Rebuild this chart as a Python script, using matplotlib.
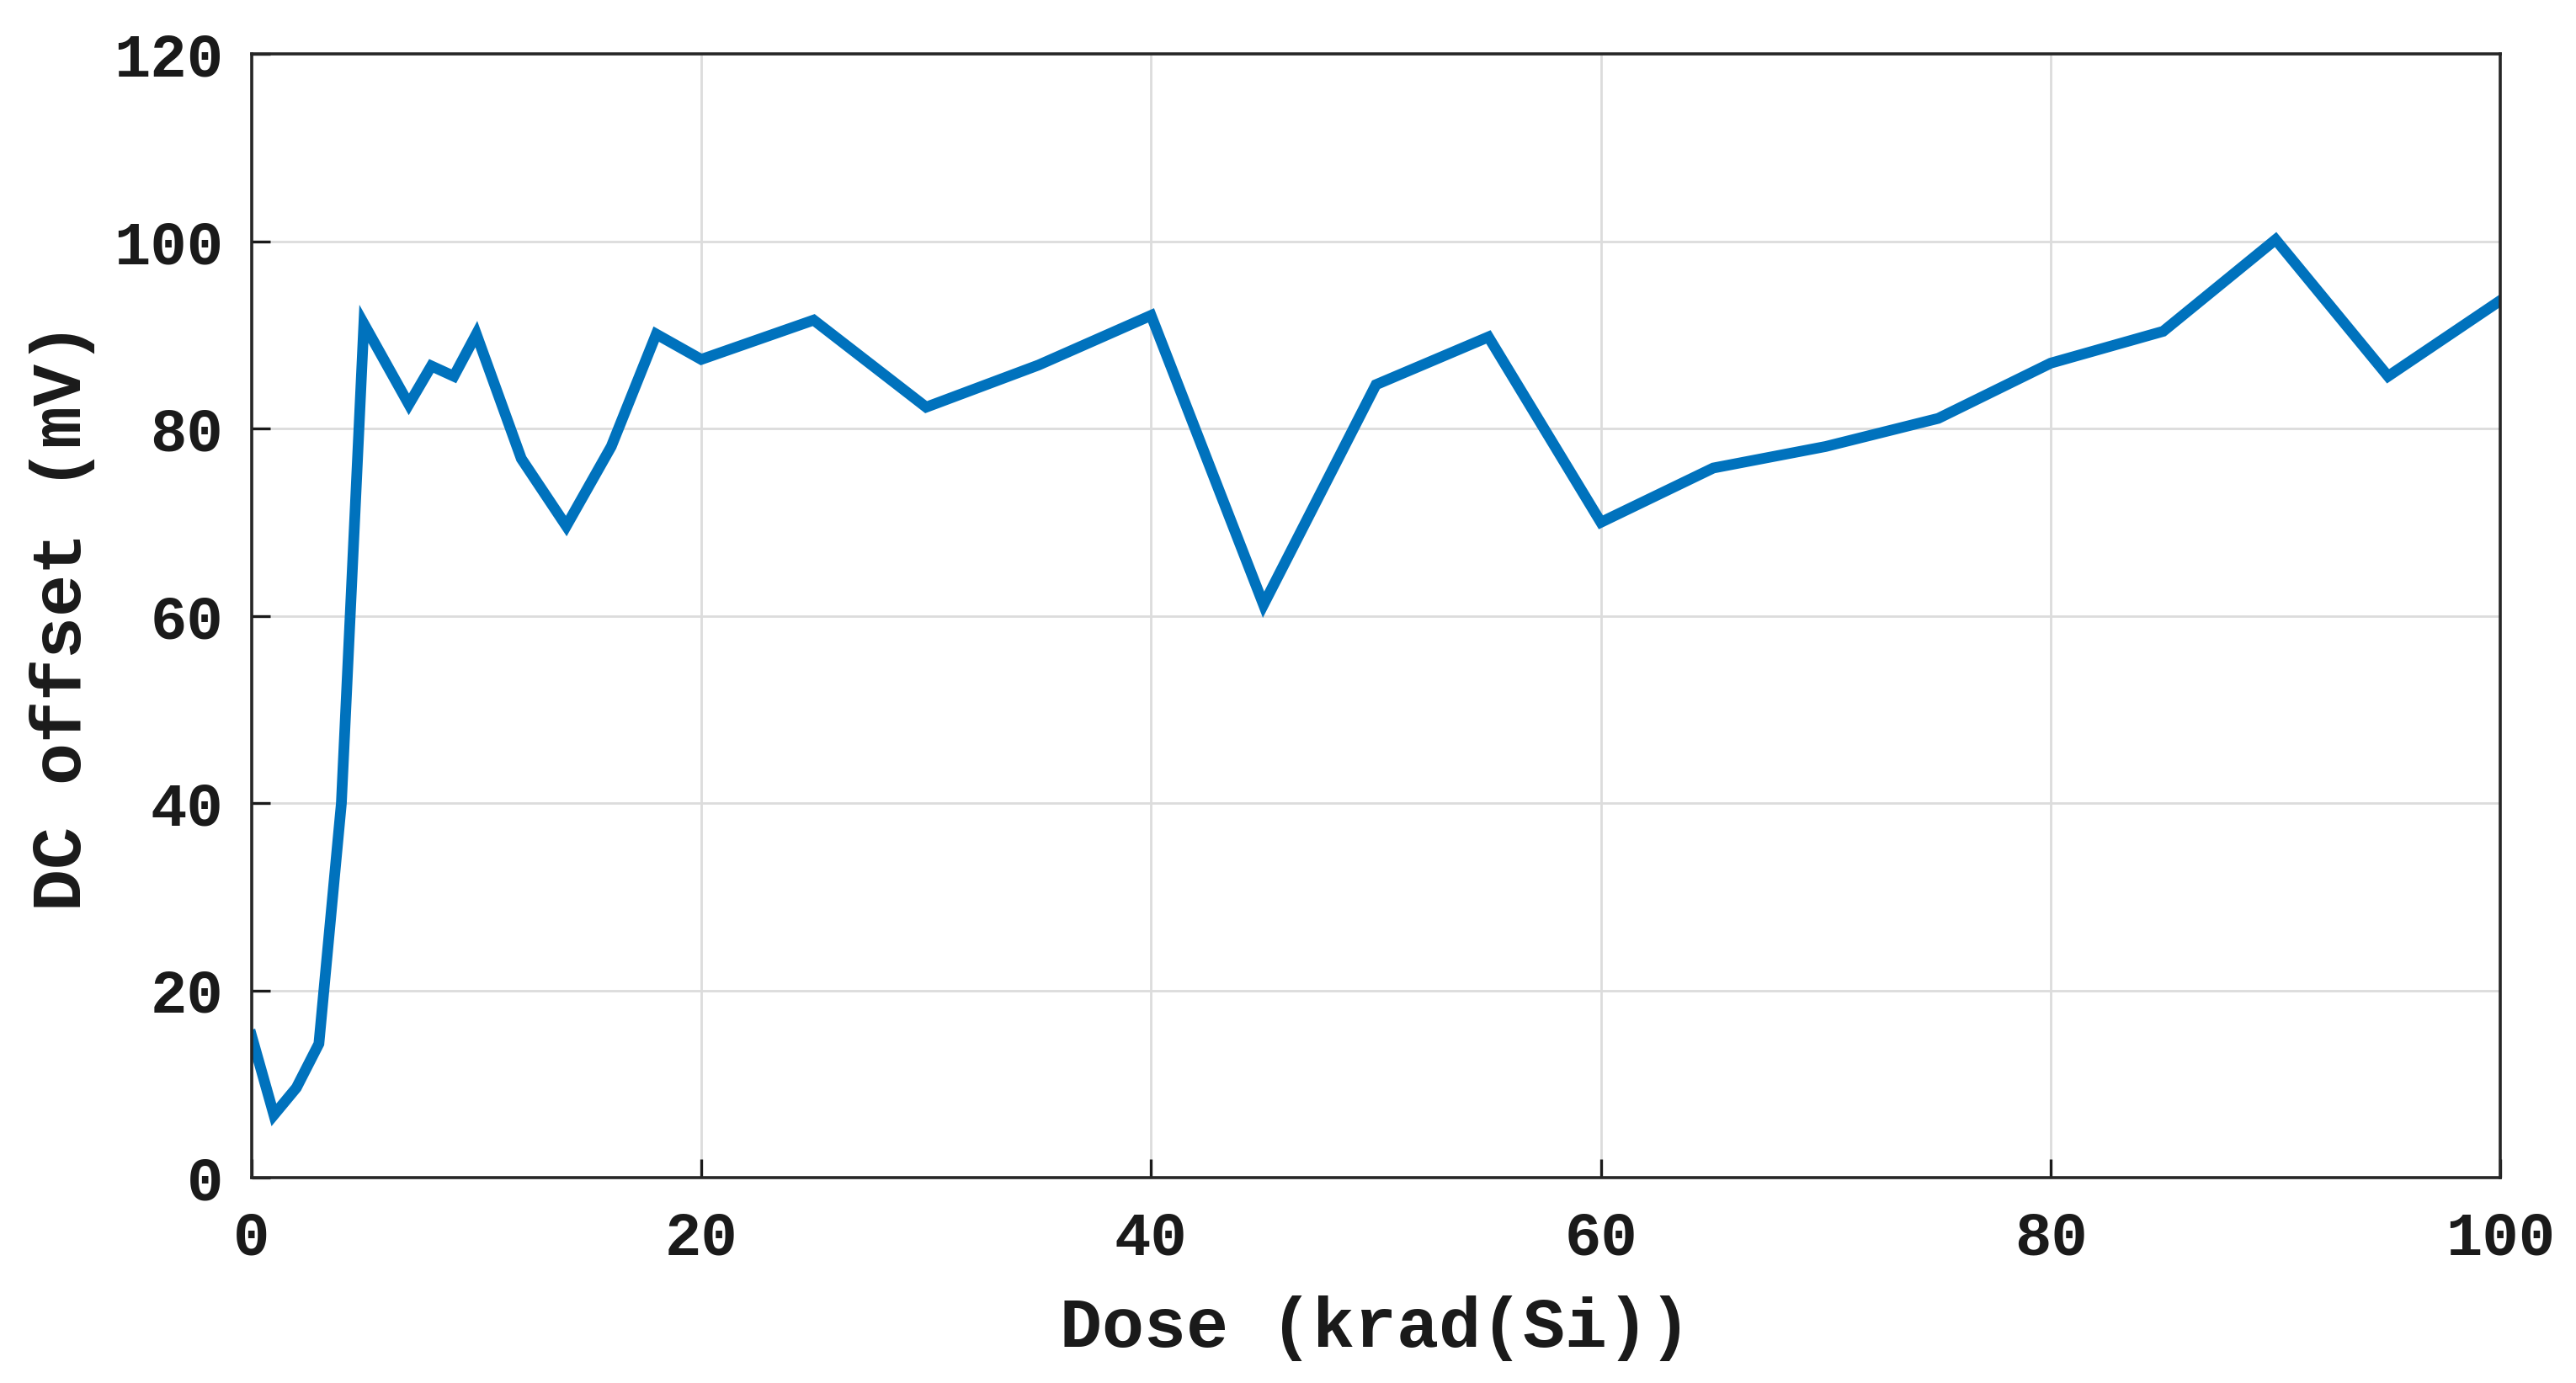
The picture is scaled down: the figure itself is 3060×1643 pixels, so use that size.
import matplotlib
matplotlib.use('Agg')
import matplotlib.pyplot as plt

dose = [0, 1, 2, 3, 4, 5, 7, 8, 9, 10, 12, 14, 16, 18, 20, 25, 30, 35, 40,
        45, 50, 55, 60, 65, 70, 75, 80, 85, 90, 95, 100]
offset = [15.2, 6.7, 9.6, 14.3, 40.0, 91.2, 82.6, 86.7, 85.6, 90.1, 76.8, 69.6,
          78.1, 90.1, 87.4, 91.6, 82.3, 86.8, 92.1, 61.2, 84.7, 89.8, 70.0,
          75.8, 78.1, 81.1, 87.0, 90.4, 100.2, 85.6, 93.7]
xticks = [0, 20, 40, 60, 80, 100]
yticks = [0, 20, 40, 60, 80, 100, 120]

plt.rcParams['font.family'] = ['Liberation Mono', 'DejaVu Sans']
plt.rcParams['font.weight'] = 'bold'

fig = plt.figure(figsize=(15.3, 8.215), dpi=200)
ax = fig.add_axes([0.0976, 0.1485, 0.8731, 0.8123])

ax.plot(dose, offset, color='#0072BD', linewidth=4.6, solid_joinstyle='miter')

ax.set_xlim(0, 100)
ax.set_ylim(0, 120)
ax.set_xticks(xticks)
ax.set_yticks(yticks)
ax.grid(True, color='#dcdcdc', linewidth=1.0)
ax.set_axisbelow(True)
ax.tick_params(direction='in', length=8, width=1.2, labelsize=26, colors='#1a1a1a')
ax.tick_params(axis='x', pad=14)
ax.tick_params(axis='y', pad=12)
for s in ax.spines.values():
    s.set_linewidth(1.3)
    s.set_color('#262626')

ax.set_xlabel('Dose (krad(Si))', fontsize=30, fontweight='bold', color='#1a1a1a', labelpad=12)
ax.set_ylabel('DC offset (mV)', fontsize=30, fontweight='bold', color='#1a1a1a', labelpad=8)

fig.savefig('out.png', dpi=200)
